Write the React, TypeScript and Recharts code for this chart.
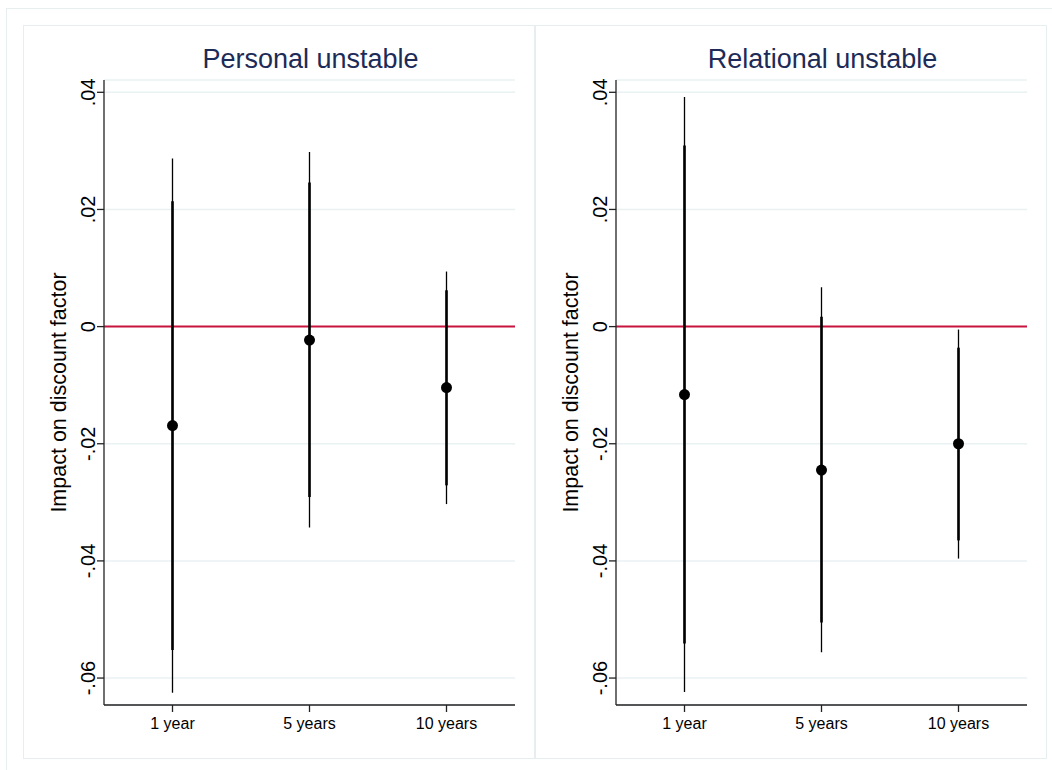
import React from "react";
import {
  CartesianGrid,
  ComposedChart,
  ErrorBar,
  ReferenceLine,
  Scatter,
  XAxis,
  YAxis,
} from "recharts";

const horizons = ["1 year", "5 years", "10 years"];
const yTicks = [-0.06, -0.04, -0.02, 0, 0.02, 0.04];

// Personal unstable: point estimate, inner (thick) and outer (thin) intervals
const personalCoef = [-0.0169, -0.0023, -0.0104];
const personalLo90 = [-0.0552, -0.0291, -0.0271];
const personalHi90 = [0.0214, 0.0246, 0.0062];
const personalLo95 = [-0.0625, -0.0343, -0.0303];
const personalHi95 = [0.0287, 0.0298, 0.0094];

// Relational unstable
const relationalCoef = [-0.0116, -0.0245, -0.02];
const relationalLo90 = [-0.0541, -0.0505, -0.0365];
const relationalHi90 = [0.0309, 0.0017, -0.0036];
const relationalLo95 = [-0.0624, -0.0556, -0.0396];
const relationalHi95 = [0.0392, 0.0067, -0.0005];

const FONT = '"Liberation Sans", Arial, Helvetica, sans-serif';
const CHART_W = 512;
const CHART_H = 734;
const AXIS_W = 81;
const PLOT_TOP = 55;
const PLOT_RIGHT = 20;
const XAXIS_H = 54;
const FRAME = "#e6eef0";
// half of one category slot, so the three points sit in the middle of their slots
const X_PAD = (CHART_W - AXIS_W - PLOT_RIGHT) / horizons.length / 2;

type Row = {
  horizon: string;
  coef: number;
  err90: [number, number];
  err95: [number, number];
};

function buildRows(
  coef: number[],
  lo90: number[],
  hi90: number[],
  lo95: number[],
  hi95: number[]
): Row[] {
  return horizons.map((h, i) => ({
    horizon: h,
    coef: coef[i],
    err90: [coef[i] - lo90[i], hi90[i] - coef[i]],
    err95: [coef[i] - lo95[i], hi95[i] - coef[i]],
  }));
}

const personalRows = buildRows(personalCoef, personalLo90, personalHi90, personalLo95, personalHi95);
const relationalRows = buildRows(
  relationalCoef,
  relationalLo90,
  relationalHi90,
  relationalLo95,
  relationalHi95
);

function fmtTick(v: number) {
  if (v === 0) return "0";
  return v.toFixed(2).replace("0.", ".");
}

function YTick({ x, y, payload }: any) {
  return (
    <text
      x={x}
      y={y}
      transform={`rotate(-90 ${x} ${y})`}
      textAnchor="middle"
      fontSize={20}
      fontFamily={FONT}
      fill="#000"
    >
      {fmtTick(payload.value)}
    </text>
  );
}

function yTitle() {
  const x = AXIS_W - 38;
  const y = PLOT_TOP + (CHART_H - XAXIS_H - PLOT_TOP) / 2;
  return (
    <text
      x={x}
      y={y}
      transform={`rotate(-90 ${x} ${y})`}
      textAnchor="middle"
      fontSize={21.5}
      fontFamily={FONT}
      fill="#000"
    >
      Impact on discount factor
    </text>
  );
}

function Dot(props: any) {
  return <circle cx={props.cx} cy={props.cy} r={5.5} fill="#000" />;
}

function Panel({ title, rows, left }: { title: string; rows: Row[]; left: number }) {
  return (
    <div
      style={{
        position: "absolute",
        left,
        top: 25,
        width: CHART_W,
        height: CHART_H,
        border: `1.5px solid ${FRAME}`,
        boxSizing: "border-box",
        background: "#fff",
      }}
    >
      <div
        style={{
          position: "absolute",
          left: AXIS_W,
          width: CHART_W - AXIS_W - PLOT_RIGHT,
          top: 20,
          textAlign: "center",
          fontFamily: FONT,
          fontSize: 27,
          lineHeight: "27px",
          color: "#1c2b57",
        }}
      >
        {title}
      </div>
      <div style={{ position: "absolute", left: -1.5, top: -1.5 }}>
        <ComposedChart
          width={CHART_W}
          height={CHART_H}
          data={rows}
          margin={{ top: PLOT_TOP, right: PLOT_RIGHT, bottom: 0, left: 0 }}
        >
          <CartesianGrid vertical={false} stroke="#eaf1f3" strokeWidth={1.5} />
          <XAxis
            dataKey="horizon"
            type="category"
            height={XAXIS_H}
            padding={{ left: X_PAD, right: X_PAD }}
            tickSize={7}
            tickMargin={6}
            axisLine={{ stroke: "#222", strokeWidth: 1.3 }}
            tickLine={{ stroke: "#222", strokeWidth: 1.3 }}
            tick={{ fontSize: 16, fill: "#000", fontFamily: FONT }}
          />
          <YAxis
            type="number"
            width={AXIS_W}
            domain={[-0.0646, 0.0421]}
            allowDataOverflow
            ticks={yTicks}
            interval={0}
            tickSize={7}
            tickMargin={2}
            axisLine={{ stroke: "#222", strokeWidth: 1.3 }}
            tickLine={{ stroke: "#222", strokeWidth: 1.3 }}
            tick={<YTick />}
            label={yTitle}
          />
          <ReferenceLine y={0} stroke="#c8143f" strokeWidth={2} />
          <Scatter dataKey="coef" shape={Dot} isAnimationActive={false}>
            <ErrorBar
              dataKey="err95"
              direction="y"
              width={0}
              stroke="#000"
              strokeWidth={1.3}
              isAnimationActive={false}
            />
            <ErrorBar
              dataKey="err90"
              direction="y"
              width={0}
              stroke="#000"
              strokeWidth={2.6}
              isAnimationActive={false}
            />
          </Scatter>
        </ComposedChart>
      </div>
    </div>
  );
}

export default function App() {
  return (
    <div
      style={{
        position: "absolute",
        left: 0,
        top: 0,
        width: 1052,
        height: 770,
        overflow: "hidden",
        background: "#fff",
      }}
    >
      <div
        style={{
          position: "absolute",
          left: 6,
          top: 8,
          width: 1100,
          height: 800,
          border: `1.5px solid ${FRAME}`,
          boxSizing: "border-box",
        }}
      />
      <Panel title="Personal unstable" rows={personalRows} left={23} />
      <Panel title="Relational unstable" rows={relationalRows} left={535} />
    </div>
  );
}
